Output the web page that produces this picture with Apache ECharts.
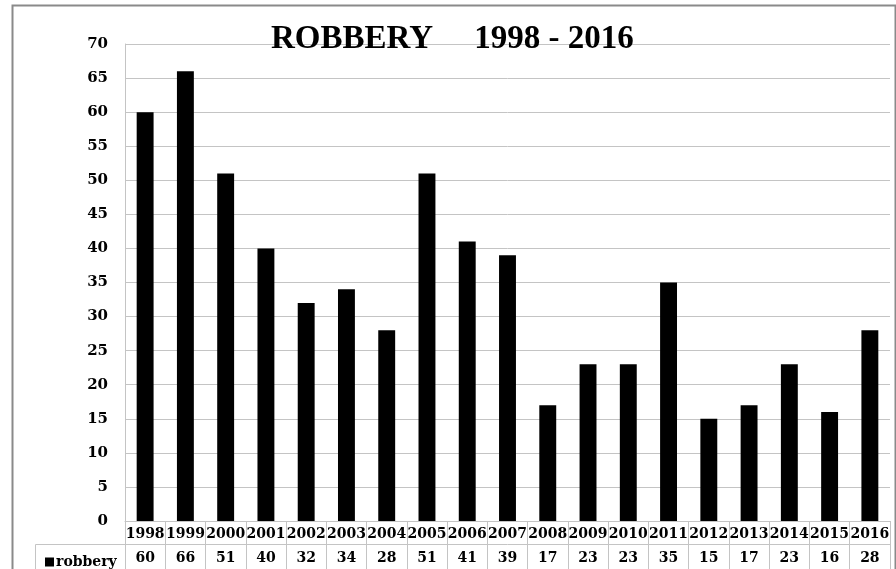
<!DOCTYPE html>
<html>
<head>
<meta charset="utf-8">
<script src="https://cdn.jsdelivr.net/npm/echarts@6/dist/echarts.min.js"></script>
<style>
  html, body { margin: 0; padding: 0; background: #fff; }
  #chart { width: 896px; height: 569px; }
</style>
</head>
<body>
<div id="chart"></div>
<script>
// data
var years = ['1998', '1999', '2000', '2001', '2002', '2003', '2004', '2005', '2006', '2007',
  '2008', '2009', '2010', '2011', '2012', '2013', '2014', '2015', '2016'];
var robbery = [60, 66, 51, 40, 32, 34, 28, 51, 41, 39, 17, 23, 23, 35, 15, 17, 23, 16, 28];
var yTicks = { min: 0, max: 70, interval: 5 };

var serif = '"Liberation Serif", "DejaVu Serif", serif';
var wideSerif = '"DejaVu Serif", "Liberation Serif", serif';
var gridColor = '#c4c4c4';

var myChart = echarts.init(document.getElementById('chart'));
myChart.setOption({
  backgroundColor: '#fff',
  animation: false,
  title: {
    text: 'ROBBERY     1998 - 2016',
    left: 266,
    top: 18,
    textStyle: { fontFamily: serif, fontWeight: 'bold', fontSize: 33, color: '#000' }
  },
  legend: {
    left: 40,
    top: 550,
    icon: 'rect',
    itemWidth: 9,
    itemHeight: 9,
    itemGap: 2,
    data: ['robbery'],
    textStyle: { fontFamily: wideSerif, fontWeight: 'bold', fontSize: 14, color: '#000', padding: [0, 0, 0, -3] }
  },
  grid: { left: 125, right: 6, top: 44, bottom: 48 },
  xAxis: [{
    type: 'category',
    data: years,
    position: 'bottom',
    axisLine: { lineStyle: { color: gridColor } },
    axisTick: { show: true, length: 48, lineStyle: { color: gridColor } },
    axisLabel: {
      interval: 0, margin: 6,
      fontFamily: wideSerif, fontWeight: 'bold', fontSize: 14, color: '#000'
    }
  }, {
    type: 'category',
    data: years,
    position: 'bottom',
    offset: 23,
    axisLine: { lineStyle: { color: gridColor } },
    axisTick: { show: false },
    axisLabel: {
      interval: 0, margin: 7,
      fontFamily: wideSerif, fontWeight: 'bold', fontSize: 14, color: '#000',
      formatter: function (v, i) { return String(robbery[i]); }
    }
  }],
  yAxis: {
    type: 'value',
    min: yTicks.min,
    max: yTicks.max,
    interval: yTicks.interval,
    axisLine: { show: true, lineStyle: { color: gridColor } },
    axisTick: { show: false },
    splitLine: { lineStyle: { color: gridColor } },
    axisLabel: { margin: 17, fontFamily: wideSerif, fontWeight: 'bold', fontSize: 15, color: '#000' }
  },
  series: [{
    name: 'robbery',
    type: 'bar',
    data: robbery,
    barWidth: '42%',
    itemStyle: { color: '#000' }
  }],
  graphic: [{
    type: 'rect',
    shape: { x: 12.5, y: 5.5, width: 883, height: 570 },
    style: { fill: null, stroke: '#8a8a8a', lineWidth: 2 },
    silent: true
  }, {
    type: 'rect',
    shape: { x: 35.5, y: 544.5, width: 90, height: 30 },
    style: { fill: null, stroke: gridColor, lineWidth: 1 },
    silent: true
  }]
});
</script>
</body>
</html>
